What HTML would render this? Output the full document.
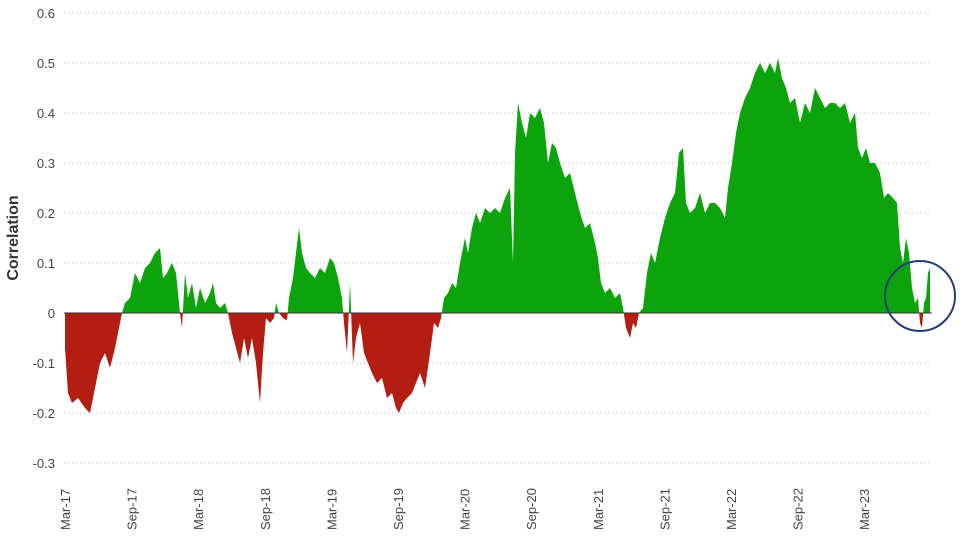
<!DOCTYPE html>
<html><head><meta charset="utf-8"><style>
body{margin:0;background:#fff;}
svg text{font-family:"Liberation Sans",sans-serif;fill:#444;font-size:13px;}
</style></head><body>
<svg id="s" width="960" height="540" xmlns="http://www.w3.org/2000/svg">
<defs>
<clipPath id="up"><rect x="0" y="0" width="960" height="313"/></clipPath>
<clipPath id="dn"><rect x="0" y="313" width="960" height="227"/></clipPath>
</defs>
<g id="grid" stroke="#bbb" stroke-dasharray="1,3" stroke-width="1"></g>
<path id="g" fill="#0da30d" clip-path="url(#up)"/>
<path id="r" fill="#b31d12" clip-path="url(#dn)"/>
<line x1="64" x2="932" y1="313" y2="313" stroke="#333" stroke-width="1"/>
<g id="yl" text-anchor="end"></g>
<g id="xl"></g>
<text x="0" y="0" transform="translate(18,238) rotate(-90)" text-anchor="middle" style="font-weight:bold;font-size:16px;fill:#333">Correlation</text>
<circle cx="920" cy="296" r="35" fill="none" stroke="#1f3f7a" stroke-width="2"/>
</svg>
<script>
var Y=v=>313-v*500;
var grid=document.getElementById('grid'),yl=document.getElementById('yl'),xl=document.getElementById('xl');
var ns='http://www.w3.org/2000/svg';
for(var i=-3;i<=6;i++){var v=i/10,y=Y(v);
 if(i!=0){var l=document.createElementNS(ns,'line');l.setAttribute('x1',64);l.setAttribute('x2',932);l.setAttribute('y1',y);l.setAttribute('y2',y);grid.appendChild(l);}
 var t=document.createElementNS(ns,'text');t.setAttribute('x',55);t.setAttribute('y',y+5);t.textContent=i==0?'0':v.toFixed(1);yl.appendChild(t);}
var labs=['Mar-17','Sep-17','Mar-18','Sep-18','Mar-19','Sep-19','Mar-20','Sep-20','Mar-21','Sep-21','Mar-22','Sep-22','Mar-23'];
labs.forEach((s,k)=>{var x=65+k*66.6;var t=document.createElementNS(ns,'text');t.setAttribute('transform','translate('+(x+5)+',530) rotate(-90)');t.textContent=s;xl.appendChild(t);});
var d=[65,-0.07,68,-0.16,72,-0.18,78,-0.17,85,-0.19,90,-0.2,95,-0.15,100,-0.1,105,-0.08,110,-0.11,115,-0.07,120,-0.02,122,0,125,0.02,130,0.03,135,0.08,140,0.06,145,0.09,150,0.1,155,0.12,160,0.13,163,0.07,167,0.08,172,0.1,176,0.08,180,0,182,-0.03,185,0.08,188,0.03,192,0.06,196,0.01,200,0.05,205,0.02,210,0.04,213,0.06,216,0.02,220,0.01,225,0.02,228,0,232,-0.04,236,-0.07,240,-0.1,244,-0.05,248,-0.09,252,-0.05,256,-0.1,260,-0.18,263,-0.08,266,-0.01,270,-0.02,274,-0.01,276,0.02,279,0,283,-0.01,287,-0.015,289,0.03,293,0.07,296,0.12,299,0.17,302,0.12,306,0.09,310,0.08,315,0.07,320,0.09,325,0.08,330,0.11,334,0.1,338,0.07,342,0.03,344,-0.02,347,-0.08,350,0.06,353,-0.1,356,-0.05,360,-0.02,364,-0.08,368,-0.1,372,-0.12,377,-0.14,382,-0.13,387,-0.17,392,-0.16,396,-0.19,399,-0.2,403,-0.18,407,-0.17,412,-0.16,416,-0.14,420,-0.12,425,-0.15,430,-0.08,434,-0.02,438,-0.03,441,-0.01,444,0.03,448,0.04,452,0.06,456,0.05,460,0.1,465,0.15,468,0.12,472,0.17,476,0.2,480,0.18,485,0.21,490,0.2,495,0.21,500,0.2,505,0.23,510,0.25,513,0.1,515,0.32,518,0.42,522,0.38,526,0.35,530,0.4,535,0.39,540,0.41,544,0.38,548,0.3,552,0.34,556,0.33,560,0.3,565,0.27,570,0.28,575,0.24,580,0.2,585,0.17,590,0.18,595,0.14,598,0.11,601,0.06,605,0.04,610,0.05,615,0.03,620,0.04,623,0.01,626,-0.03,630,-0.05,633,-0.02,636,-0.03,639,0,643,0.01,647,0.08,651,0.12,655,0.1,660,0.15,665,0.19,670,0.22,675,0.24,679,0.32,683,0.33,686,0.22,690,0.2,695,0.21,700,0.24,705,0.2,710,0.22,715,0.22,720,0.21,725,0.19,728,0.25,732,0.3,736,0.36,740,0.4,745,0.43,750,0.45,755,0.48,760,0.5,765,0.48,770,0.5,775,0.48,778,0.51,782,0.47,786,0.45,790,0.42,795,0.43,800,0.38,805,0.42,810,0.4,815,0.45,820,0.43,825,0.41,830,0.42,835,0.42,840,0.41,845,0.42,850,0.38,855,0.4,858,0.33,862,0.31,866,0.33,870,0.3,875,0.3,880,0.28,884,0.23,888,0.24,893,0.23,897,0.22,900,0.13,903,0.1,906,0.15,909,0.12,912,0.05,915,0.02,918,0.03,920,-0.02,922,-0.03,924,0.02,926,0.03,928,0.08,930,0.09];
var p='M65,313';for(var i=0;i<d.length;i+=2){p+='L'+d[i]+','+Y(d[i+1]);}p+='L930,313Z';
document.getElementById('g').setAttribute('d',p);document.getElementById('r').setAttribute('d',p);
</script>
</body></html>
